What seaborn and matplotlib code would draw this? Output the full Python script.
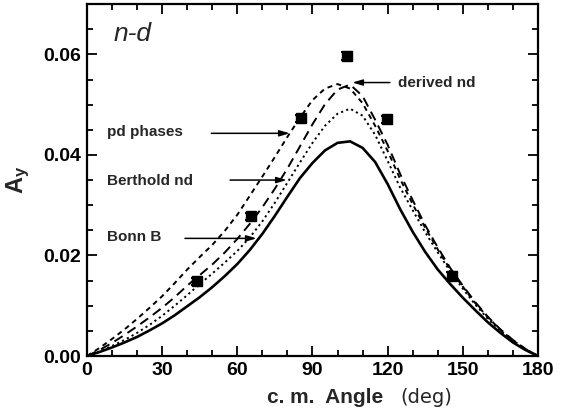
import numpy as np
import pandas as pd
import matplotlib
matplotlib.use('Agg')
import matplotlib.pyplot as plt
from matplotlib.ticker import MultipleLocator
import seaborn as sns

sns.set_style('ticks')
plt.rcParams['font.family'] = ['Liberation Sans', 'DejaVu Sans']
plt.rcParams['mathtext.fontset'] = 'custom'
plt.rcParams['mathtext.rm'] = 'Liberation Sans'
plt.rcParams['mathtext.bf'] = 'Liberation Sans:bold'

# ===================== data =====================
angle = [0, 5, 10, 15, 20, 25, 30, 35, 40, 45, 50, 55, 60, 65, 70, 75, 80, 85, 90,
         95, 100, 105, 110, 115, 120, 125, 130, 135, 140, 145, 150, 155, 160, 165,
         170, 175, 180]

bonn_b = [0, 0.0008, 0.0017, 0.0027, 0.0038, 0.0051, 0.0065, 0.0081, 0.0099, 0.0117,
          0.0137, 0.0159, 0.0183, 0.0211, 0.0243, 0.0279, 0.0317, 0.0354, 0.0384,
          0.0409, 0.0424, 0.0427, 0.0414, 0.0386, 0.0342, 0.0292, 0.0247, 0.0207,
          0.0172, 0.0143, 0.0116, 0.0091, 0.0067, 0.0046, 0.0027, 0.0012, 0]

berthold_nd = [0, 0.0009, 0.0020, 0.0032, 0.0046, 0.0062, 0.0080, 0.0100, 0.0121, 0.0143,
               0.0164, 0.0186, 0.0209, 0.0236, 0.0268, 0.0305, 0.0345, 0.0385, 0.0424,
               0.0458, 0.0482, 0.0492, 0.0478, 0.0440, 0.0388, 0.0335, 0.0290, 0.0246,
               0.0206, 0.0168, 0.0134, 0.0102, 0.0074, 0.0050, 0.0030, 0.0013, 0]

derived_nd = [0, 0.0012, 0.0026, 0.0042, 0.0059, 0.0077, 0.0096, 0.0117, 0.0140, 0.0161,
              0.0182, 0.0206, 0.0233, 0.0263, 0.0296, 0.0333, 0.0373, 0.0417, 0.0461,
              0.0501, 0.0530, 0.0540, 0.0517, 0.0470, 0.0420, 0.0362, 0.0310, 0.0260,
              0.0216, 0.0175, 0.0140, 0.0107, 0.0078, 0.0053, 0.0032, 0.0014, 0]

pd_phases = [0, 0.0016, 0.0034, 0.0053, 0.0074, 0.0096, 0.0119, 0.0145, 0.0172, 0.0197,
             0.0221, 0.0249, 0.0281, 0.0319, 0.0357, 0.0396, 0.0436, 0.0474, 0.0509,
             0.0532, 0.0541, 0.0532, 0.0503, 0.0458, 0.0408, 0.0352, 0.0302, 0.0255,
             0.0212, 0.0172, 0.0138, 0.0105, 0.0077, 0.0052, 0.0031, 0.0014, 0]

exp_angle = [44.0, 65.6, 85.5, 103.6, 119.7, 145.6]
exp_ay = [0.0149, 0.0278, 0.0473, 0.0596, 0.0471, 0.0160]
exp_err = [0.0007, 0.0007, 0.0007, 0.0008, 0.0007, 0.0007]

# ===================== frame =====================
curves = {'Bonn B': bonn_b, 'Berthold nd': berthold_nd,
          'derived nd': derived_nd, 'pd phases': pd_phases}
df = pd.concat([pd.DataFrame({'angle': angle, 'Ay': v, 'model': k})
                for k, v in curves.items()], ignore_index=True)

fig, ax = plt.subplots(figsize=(5.66, 4.12), dpi=100)
fig.subplots_adjust(left=0.1537, right=0.9505, bottom=0.1359, top=0.990)

dashes = {'Bonn B': '', 'Berthold nd': (1.1, 1.7),
          'derived nd': (5.0, 3.0), 'pd phases': (2.6, 2.2)}
palette = {k: 'black' for k in curves}

for name, lw in [('Bonn B', 1.9), ('Berthold nd', 1.4), ('derived nd', 1.4), ('pd phases', 1.4)]:
    sns.lineplot(data=df[df['model'] == name], x='angle', y='Ay', hue='model',
                 style='model', dashes=dashes, palette=palette, linewidth=lw,
                 legend=False, ax=ax, estimator=None)

ax.errorbar(exp_angle, exp_ay, yerr=exp_err, fmt='s', color='black', ms=7,
            capsize=4, elinewidth=1.5, capthick=1.5, zorder=5)

# ===================== axes =====================
ax.set_xlim(0, 180)
ax.set_ylim(0, 0.07)
ax.xaxis.set_major_locator(MultipleLocator(30))
ax.xaxis.set_minor_locator(MultipleLocator(10))
ax.yaxis.set_major_locator(MultipleLocator(0.02))
ax.yaxis.set_minor_locator(MultipleLocator(0.005))
ax.yaxis.set_major_formatter(matplotlib.ticker.FormatStrFormatter('%.2f'))
ax.tick_params(which='both', direction='in', top=True, right=True, width=1.3,
               colors='black')
ax.tick_params(which='major', length=7, labelsize=14, pad=4)
ax.tick_params(which='minor', length=4)
for lab in ax.get_xticklabels() + ax.get_yticklabels():
    lab.set_fontweight('bold')
for s in ax.spines.values():
    s.set_linewidth(1.6)
    s.set_color('black')

ax.set_xlabel('')
ax.set_ylabel(r'$\mathbf{A_y}$', fontsize=17, labelpad=8)
fig.text(0.472, 0.035, 'c. m.  Angle', fontsize=15, fontweight='bold', ha='left',
         va='center')
fig.text(0.708, 0.035, '(deg)', fontsize=14, ha='left', va='center',
         family='DejaVu Sans')

ax.text(10.8, 0.0641, 'n-d', fontsize=19, style='italic', va='center')

# labels + arrows
arrow_kw = dict(arrowstyle='-|>,head_length=0.6,head_width=0.18', color='black', lw=1.1)
ax.text(8, 0.0445, 'pd phases', fontsize=11, fontweight='bold', va='center')
ax.annotate('', xy=(82, 0.0443), xytext=(48.5, 0.0443), arrowprops=arrow_kw)
ax.text(8, 0.0348, 'Berthold nd', fontsize=11, fontweight='bold', va='center')
ax.annotate('', xy=(80.8, 0.0350), xytext=(56, 0.0350), arrowprops=arrow_kw)
ax.text(8, 0.0236, 'Bonn B', fontsize=11, fontweight='bold', va='center')
ax.annotate('', xy=(68.8, 0.0234), xytext=(38, 0.0234), arrowprops=arrow_kw)
ax.text(124, 0.0544, 'derived nd', fontsize=11, fontweight='bold', va='center')
ax.annotate('', xy=(104.8, 0.0544), xytext=(122, 0.0544), arrowprops=arrow_kw)

fig.savefig('out.png', dpi=100)
